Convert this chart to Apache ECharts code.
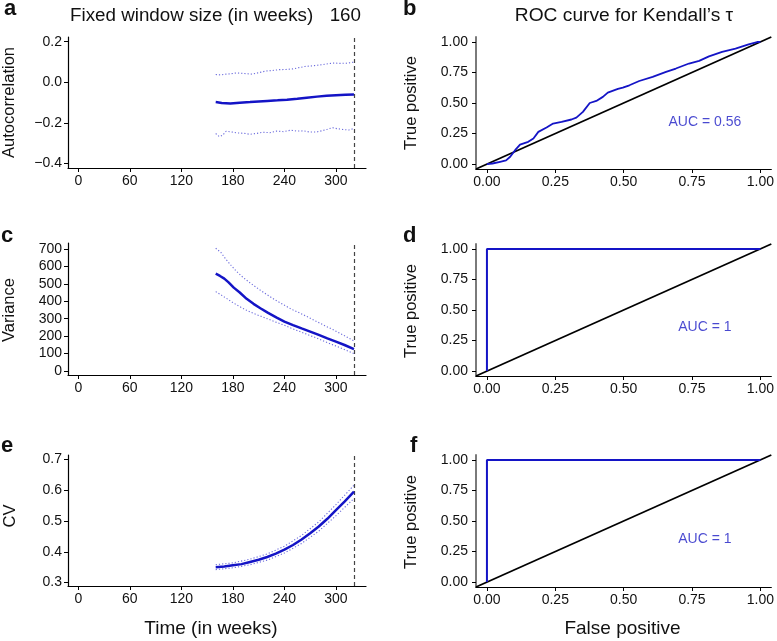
<!DOCTYPE html>
<html>
<head>
<meta charset="utf-8">
<script src="https://cdn.jsdelivr.net/npm/echarts@6/dist/echarts.min.js"></script>
<style>
html,body{margin:0;padding:0;background:#fff;}
#main{width:777px;height:641px;}
</style>
</head>
<body>
<div id="main"></div>
<script>
// ---------------- data ----------------
const timeTicks = [0, 60, 120, 180, 240, 300];
const rocTicks = [0, 0.25, 0.5, 0.75, 1];
const acfTicks = [-0.4, -0.2, 0, 0.2];
const varTicks = [0, 100, 200, 300, 400, 500, 600, 700];
const cvTicks = [0.3, 0.4, 0.5, 0.6, 0.7];
const transitionTime = 321;

const acfMean = [[160,-0.098],[167,-0.102],[177,-0.105],[188,-0.101],[200,-0.098],[210,-0.095],[220,-0.092],[232,-0.089],[243,-0.086],[255,-0.081],[266,-0.076],[278,-0.071],[289,-0.067],[300,-0.064],[311,-0.062],[321,-0.061]];
const acfUpper = [[160,0.038],[166,0.036],[172,0.040],[178,0.042],[184,0.046],[190,0.044],[196,0.042],[203,0.040],[210,0.047],[218,0.055],[226,0.058],[234,0.062],[242,0.063],[250,0.066],[257,0.072],[264,0.078],[271,0.080],[278,0.084],[285,0.087],[292,0.092],[298,0.095],[305,0.093],[312,0.094],[321,0.099]];
const acfLower = [[160,-0.253],[164,-0.268],[168,-0.262],[172,-0.242],[178,-0.245],[185,-0.250],[193,-0.252],[200,-0.257],[207,-0.253],[215,-0.247],[223,-0.249],[231,-0.241],[239,-0.244],[247,-0.237],[255,-0.241],[262,-0.240],[270,-0.246],[278,-0.245],[285,-0.238],[290,-0.232],[296,-0.224],[301,-0.229],[308,-0.233],[315,-0.236],[321,-0.228]];

const varMean = [[160,558],[165,545],[170,530],[175,508],[181,478],[188,450],[196,414],[204,385],[212,360],[221,333],[231,306],[240,283],[250,263],[260,244],[270,226],[280,207],[290,187],[300,168],[310,149],[321,125]];
const varUpper = [[160,704],[166,680],[172,640],[178,605],[184,572],[192,536],[200,505],[210,470],[219,440],[229,408],[239,380],[248,355],[258,332],[268,308],[277,285],[287,260],[297,236],[309,205],[321,172]];
const varLower = [[160,455],[166,437],[173,415],[180,392],[188,369],[196,348],[204,330],[212,315],[220,300],[229,282],[239,264],[248,245],[258,226],[268,207],[278,188],[287,169],[297,149],[309,125],[321,100]];

const cvMean = [[160,0.350],[170,0.352],[180,0.356],[190,0.360],[200,0.367],[210,0.374],[220,0.383],[230,0.394],[240,0.407],[250,0.422],[260,0.440],[270,0.460],[280,0.482],[290,0.507],[300,0.535],[310,0.563],[321,0.595]];
const cvUpper = [[160,0.358],[180,0.364],[200,0.376],[220,0.393],[240,0.418],[260,0.453],[280,0.497],[300,0.553],[321,0.616]];
const cvLower = [[160,0.342],[180,0.348],[200,0.358],[220,0.373],[240,0.396],[260,0.427],[280,0.467],[300,0.517],[321,0.573]];

const rocAcf = [[0,0],[0.02,0.005],[0.048,0.019],[0.07,0.03],[0.085,0.06],[0.103,0.114],[0.121,0.16],[0.151,0.182],[0.17,0.21],[0.188,0.264],[0.218,0.30],[0.242,0.332],[0.273,0.346],[0.309,0.365],[0.327,0.38],[0.351,0.427],[0.376,0.50],[0.40,0.517],[0.424,0.55],[0.442,0.585],[0.479,0.615],[0.497,0.626],[0.521,0.645],[0.557,0.68],[0.606,0.713],[0.655,0.754],[0.691,0.782],[0.739,0.823],[0.776,0.845],[0.812,0.882],[0.86,0.918],[0.909,0.945],[0.957,0.98],[0.988,0.999],[1,1]];
const rocVar = [[0,0],[0,1],[1,1]];
const rocCv = [[0,0],[0,1],[1,1]];
const diagonal = [[-0.04,-0.04],[1.04,1.04]];
const aucLabels = ['AUC = 0.56', 'AUC = 1', 'AUC = 1'];
const aucPos = [[0.797,0.343],[0.797,0.356],[0.797,0.348]];

// ---------------- layout / style ----------------
const FONT = '"Liberation Sans", Arial, Helvetica, sans-serif';
const BLUE = '#1414c6';
const CI = '#6b6bdc';
const TXT = '#111';

const leftGrids = [{top:37,height:131},{top:243,height:132},{top:455,height:131}];
const rightGrids = [{top:37,height:132},{top:244,height:132},{top:455,height:132}];
const grids = [];
leftGrids.forEach(g => grids.push({left:68, width:298, top:g.top, height:g.height}));
rightGrids.forEach(g => grids.push({left:476, width:297, top:g.top, height:g.height}));

function mkX(gi, ticks, min, max, fmt) {
  return {
    type:'value', gridIndex:gi, min:min, max:max,
    axisLine:{show:true, onZero:false, lineStyle:{color:'#000', width:1.2}},
    axisTick:{show:true, length:4, customValues:ticks, lineStyle:{color:'#000', width:1}},
    axisLabel:{show:true, customValues:ticks, margin:6, fontSize:14, color:TXT, fontFamily:FONT, formatter:fmt},
    splitLine:{show:false}
  };
}
function mkY(gi, ticks, min, max, fmt, grey) {
  return {
    type:'value', gridIndex:gi, min:min, max:max,
    axisLine:{show:true, onZero:false, lineStyle:{color: grey ? '#7a7a7a' : '#000', width: grey ? 2 : 1.2}},
    axisTick:{show:true, length:4, customValues:ticks, lineStyle:{color:'#000', width:1}},
    axisLabel:{show:true, customValues:ticks, margin: grey ? 8 : 6, fontSize:14, color:TXT, fontFamily:FONT, formatter:fmt},
    splitLine:{show:false}
  };
}
const fmtInt = v => String(Math.round(v));
const fmt1 = v => (v < -1e-9 ? '\u2212' : '') + Math.abs(v).toFixed(1);
const fmt2 = v => Math.abs(v).toFixed(2);

const xAxes = [
  mkX(0, timeTicks, -12, 335, fmtInt),
  mkX(1, timeTicks, -12, 335, fmtInt),
  mkX(2, timeTicks, -12, 335, fmtInt),
  mkX(3, rocTicks, -0.04, 1.04, fmt2),
  mkX(4, rocTicks, -0.04, 1.04, fmt2),
  mkX(5, rocTicks, -0.04, 1.04, fmt2)
];
const yAxes = [
  mkY(0, acfTicks, -0.4232, 0.2232, fmt1, false),
  mkY(1, varTicks, -23, 734, fmtInt, false),
  mkY(2, cvTicks, 0.289, 0.714, fmt1, false),
  mkY(3, rocTicks, -0.04, 1.04, fmt2, true),
  mkY(4, rocTicks, -0.04, 1.04, fmt2, true),
  mkY(5, rocTicks, -0.04, 1.04, fmt2, true)
];

function solid(i, data, w, withMark) {
  const s = {type:'line', xAxisIndex:i, yAxisIndex:i, data:data, showSymbol:false, symbol:'none',
    lineStyle:{color:BLUE, width:w}, silent:true, z:5};
  if (withMark) {
    s.markLine = {silent:true, symbol:['none','none'], label:{show:false},
      lineStyle:{type:[4,3], color:'#444', width:1.2}, data:[{xAxis:transitionTime}]};
  }
  return s;
}
function dotted(i, data) {
  return {type:'line', xAxisIndex:i, yAxisIndex:i, data:data, showSymbol:false, symbol:'none',
    lineStyle:{color:CI, width:1.1, type:[1.2,2]}, silent:true, z:4};
}
function diag(i) {
  return {type:'line', xAxisIndex:i, yAxisIndex:i, data:diagonal, showSymbol:false, symbol:'none',
    lineStyle:{color:'#000', width:1.8}, silent:true, z:3};
}
function auc(i, k) {
  return {type:'scatter', xAxisIndex:i, yAxisIndex:i, data:[aucPos[k]], symbolSize:0.01, silent:true,
    label:{show:true, position:'inside', formatter:aucLabels[k], color:'#1c1cc4', fontSize:14, fontFamily:FONT}};
}

const series = [
  dotted(0, acfUpper), dotted(0, acfLower), solid(0, acfMean, 2.5, true),
  dotted(1, varUpper), dotted(1, varLower), solid(1, varMean, 2.5, true),
  dotted(2, cvUpper), dotted(2, cvLower), solid(2, cvMean, 2.5, true),
  diag(3), solid(3, rocAcf, 1.8, false), auc(3, 0),
  diag(4), solid(4, rocVar, 2, false), auc(4, 1),
  diag(5), solid(5, rocCv, 2, false), auc(5, 2)
];

function txt(text, x, y, size, opts) {
  opts = opts || {};
  return {
    type:'text', x:x, y:y, rotation: opts.rot || 0, silent:true,
    style:{text:text, font:(opts.bold ? 'bold ' : '') + size + 'px ' + FONT, fill:TXT,
      align: opts.align || 'center', textAlign: opts.align || 'center',
      verticalAlign:'middle', textVerticalAlign:'middle'}
  };
}
const R = Math.PI / 2;
const graphic = [
  txt('a', 4, 9, 22, {bold:true, align:'left'}),
  txt('b', 403, 9, 22, {bold:true, align:'left'}),
  txt('c', 1, 235.5, 22, {bold:true, align:'left'}),
  txt('d', 403, 235.5, 22, {bold:true, align:'left'}),
  txt('e', 1, 445.5, 22, {bold:true, align:'left'}),
  txt('f', 410, 445.5, 22, {bold:true, align:'left'}),
  txt('Fixed window size (in weeks)', 70, 15.5, 18.8, {align:'left'}),
  txt('160', 361, 15.5, 18.8, {align:'right'}),
  txt('ROC curve for Kendall\u2019s \u03c4', 624, 15.5, 19.2),
  txt('Autocorrelation', 9.5, 102.5, 16.5, {rot:R}),
  txt('Variance', 9.5, 310, 16.5, {rot:R}),
  txt('CV', 10, 516, 16.5, {rot:R}),
  txt('True positive', 411, 103, 16.5, {rot:R}),
  txt('True positive', 411, 311, 16.5, {rot:R}),
  txt('True positive', 411, 522, 16.5, {rot:R}),
  txt('Time (in weeks)', 211, 629, 19),
  txt('False positive', 622.5, 629, 19)
];

const chart = echarts.init(document.getElementById('main'), null, {renderer:'canvas'});
chart.setOption({
  animation:false,
  backgroundColor:'#fff',
  grid:grids,
  xAxis:xAxes,
  yAxis:yAxes,
  series:series,
  graphic:graphic
});
</script>
</body>
</html>
